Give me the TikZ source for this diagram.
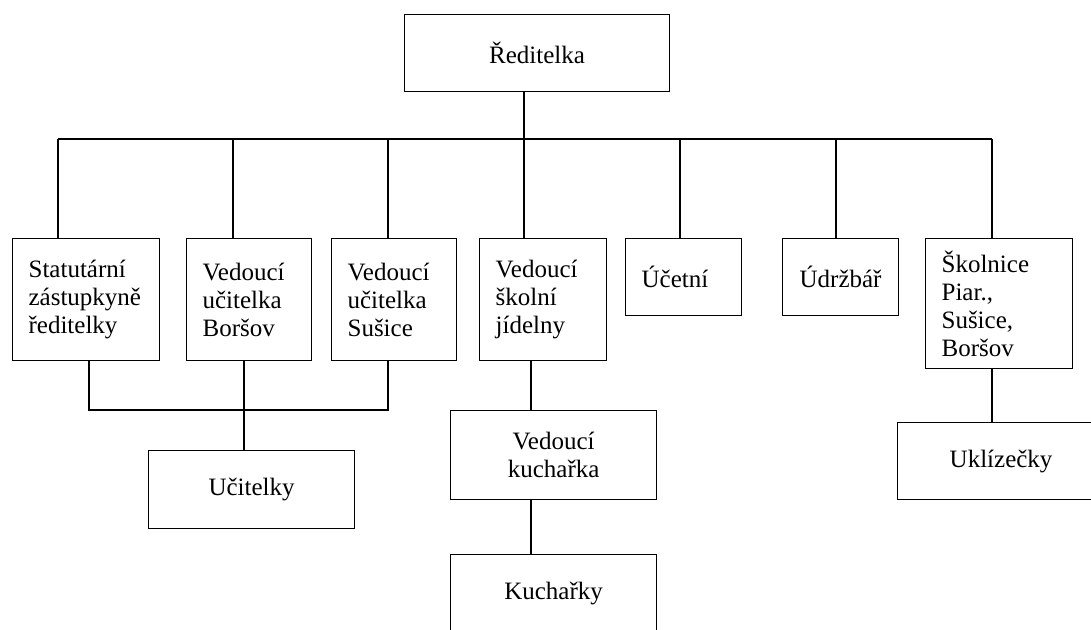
\documentclass[tikz,border=0pt]{standalone}
\usepackage{fontspec}
\setmainfont{Liberation Serif}
\newlength{\px}
\setlength{\px}{0.75pt}

\begin{document}
\begin{tikzpicture}[x=\px, y=-\px, line width=0.9pt,
    box/.style={draw, rectangle, anchor=north west, inner sep=0pt, align=center, font=\fontsize{18.75}{21}\selectfont},
    lbox/.style={box, align=left, inner xsep=16\px}]
    \useasboundingbox (0,0) rectangle (1091,630);

    % Top
    \node[box, minimum width=265\px, minimum height=77\px] (dir) at (404,14) {Ředitelka};

    % Second row
    \node[lbox, text width=115\px, minimum height=122\px] (stat) at (12,238) {Statutární\\zástupkyně\\ředitelky};
    \node[lbox, text width=93\px, minimum height=122\px] (vborsov) at (186,238) {Vedoucí\\učitelka\\Boršov};
    \node[lbox, text width=93\px, minimum height=122\px] (vsusice) at (331,238) {Vedoucí\\učitelka\\Sušice};
    \node[lbox, text width=95\px, minimum height=122\px] (vjidelna) at (479,238) {Vedoucí\\školní\\jídelny};
    \node[lbox, text width=84\px, minimum height=77\px] (ucetni) at (625,238) {Účetní};
    \node[box, minimum width=116\px, minimum height=77\px] (udrzbar) at (782,238) {Údržbář};
    \node[lbox, text width=115\px, minimum height=130\px] (skolnice) at (925,238) {Školnice\\Piar.,\\Sušice,\\Boršov};

    % Lower rows
    \node[box, minimum width=206\px, minimum height=78\px] (ucitelky) at (148,450) {Učitelky};
    \node[box, minimum width=206\px, minimum height=89\px] (kucharka) at (450,410) {Vedoucí\\kuchařka};
    \node[box, minimum width=206\px, minimum height=78\px] (kucharky) at (450,554) {Kuchařky};
    \node[box, minimum width=207\px, minimum height=77\px] (uklizecky) at (897,422) {Uklízečky};

    % Bus below the director
    \coordinate (bus-w) at (58,139);
    \coordinate (bus-e) at (992,139);
    \coordinate (tap-dir) at (524,139);
    \coordinate (tap-vborsov) at (233,139);
    \coordinate (tap-vsusice) at (388,139);
    \coordinate (tap-ucetni) at (680,139);
    \coordinate (tap-udrzbar) at (836,139);
    \draw (bus-w) -- (bus-e);
    \draw (dir.south -| tap-dir) -- (vjidelna.north -| tap-dir);
    \draw (bus-w) -- (stat.north -| bus-w);
    \foreach \n in {vborsov, vsusice, ucetni, udrzbar}
        \draw (tap-\n) -- (\n.north -| tap-\n);
    \draw (bus-e) -- (skolnice.north -| bus-e);

    % Teachers
    \coordinate (tea-l) at (89,410);
    \coordinate (tea-m) at (244,410);
    \coordinate (tea-r) at (388,410);
    \draw (stat.south -| tea-l) -- (tea-l) -- (tea-r) -- (vsusice.south -| tea-r);
    \draw (vborsov.south -| tea-m) -- (ucitelky.north -| tea-m);

    % Kitchen
    \coordinate (kit) at (531,400);
    \draw (vjidelna.south -| kit) -- (kucharka.north -| kit);
    \draw (kucharka.south -| kit) -- (kucharky.north -| kit);

    % Cleaning
    \draw (skolnice.south -| bus-e) -- (uklizecky.north -| bus-e);
\end{tikzpicture}
\end{document}
